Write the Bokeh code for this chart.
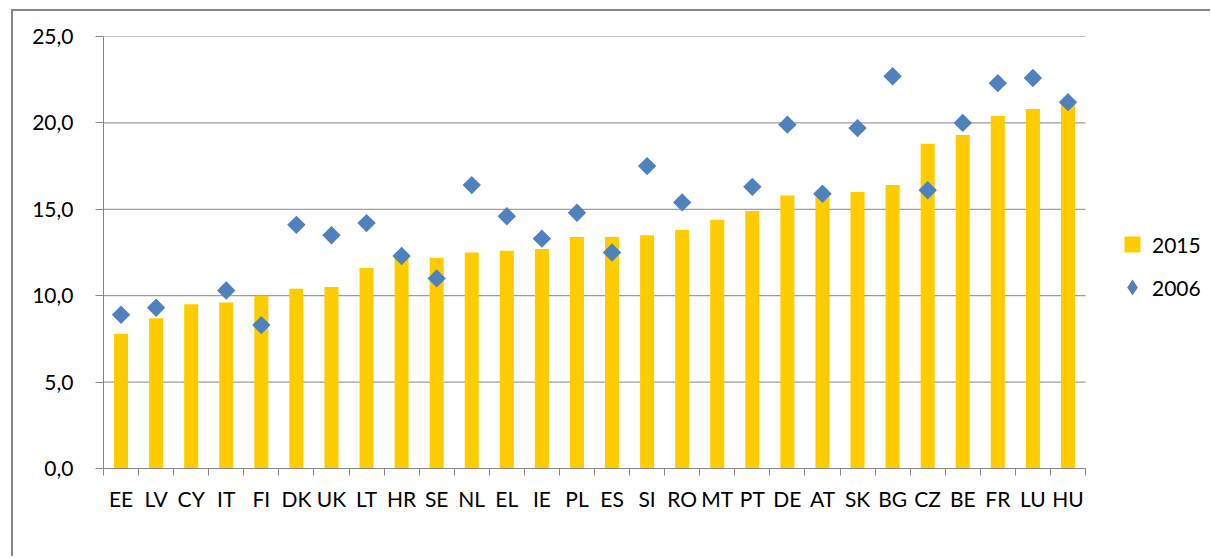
from bokeh.plotting import figure
from bokeh.models import Range1d, FixedTicker, Legend, LegendItem
from bokeh.embed import file_html
from bokeh.resources import INLINE
import math

countries = ["EE", "LV", "CY", "IT", "FI", "DK", "UK", "LT", "HR", "SE", "NL", "EL", "IE", "PL",
             "ES", "SI", "RO", "MT", "PT", "DE", "AT", "SK", "BG", "CZ", "BE", "FR", "LU", "HU"]
v2015 = [7.8, 8.7, 9.5, 9.6, 10.0, 10.4, 10.5, 11.6, 12.3, 12.2, 12.5, 12.6, 12.7, 13.4,
         13.4, 13.5, 13.8, 14.4, 14.9, 15.8, 15.9, 16.0, 16.4, 18.8, 19.3, 20.4, 20.8, 21.1]
v2006 = [8.9, 9.3, None, 10.3, 8.3, 14.1, 13.5, 14.2, 12.3, 11.0, 16.4, 14.6, 13.3, 14.8,
         12.5, 17.5, 15.4, None, 16.3, 19.9, 15.9, 19.7, 22.7, 16.1, 20.0, 22.3, 22.6, 21.2]
y_ticks = [0, 5, 10, 15, 20, 25]
y_labels = ["0,0", "5,0", "10,0", "15,0", "20,0", "25,0"]

FONT = "Lato"
GRID = "#868686"
YELLOW = "#FFCC00"
BLUE = "#4F81BD"

n = len(countries)
xc = [i + 0.5 for i in range(n)]
x06 = [xc[i] for i in range(n) if v2006[i] is not None]
y06 = [v for v in v2006 if v is not None]

OFF_X, OFF_Y = 13, 11
FRAME_L, FRAME_R_DATA, PAGE_W = 103, 1085, 1212
x_end = n * (PAGE_W - FRAME_L) / (FRAME_R_DATA - FRAME_L)

p = figure(width=PAGE_W - OFF_X, height=558 - OFF_Y, output_backend="svg", toolbar_location=None,
           x_range=Range1d(0, x_end), y_range=Range1d(0, 25),
           min_border_left=FRAME_L - OFF_X, min_border_right=0,
           min_border_top=36 - OFF_Y, min_border_bottom=558 - 468)
p.outline_line_color = None
p.background_fill_color = "white"
p.border_fill_color = "white"
p.margin = (9, 0, 0, 11)
p.styles = {"border-left": "2px solid #868686", "border-top": "2px solid #868686"}

# horizontal gridlines limited to the category area
p.xgrid.grid_line_color = None
p.ygrid.grid_line_color = None
p.segment(x0=[0] * len(y_ticks), x1=[n] * len(y_ticks), y0=y_ticks, y1=y_ticks,
          line_color=GRID, line_width=1)

bars = p.vbar(x=xc, top=v2015, width=0.4, color=YELLOW, line_color=None)
pts = p.scatter(x=x06, y=y06, marker="square", angle=math.pi / 4, size=13,
                fill_color=BLUE, line_color=None)

# legend proxies (zero-size, only used for legend glyphs)
prox_sq = p.scatter(x=xc, y=v2015, marker="square", size=0, fill_color=YELLOW, line_color=None)
prox_di = p.scatter(x=x06, y=y06, marker="diamond", size=0, fill_color=BLUE, line_color=None)

# axes
xa = p.xaxis[0]
xa.bounds = (0, n)
xa.ticker = FixedTicker(ticks=xc, minor_ticks=list(range(n + 1)))
xa.major_label_overrides = {x: c for x, c in zip(xc, countries)}
xa.major_tick_line_color = None
xa.minor_tick_line_color = GRID
xa.minor_tick_out = 7
xa.minor_tick_in = 0
xa.axis_line_color = GRID
xa.major_label_standoff = 10
xa.major_label_text_font = FONT
xa.major_label_text_font_size = "21px"
xa.major_label_text_color = "black"

ya = p.yaxis[0]
ya.ticker = FixedTicker(ticks=y_ticks)
ya.major_label_overrides = {t: l for t, l in zip(y_ticks, y_labels)}
ya.major_tick_line_color = GRID
ya.major_tick_out = 8
ya.major_tick_in = 0
ya.minor_tick_line_color = None
ya.axis_line_color = GRID
ya.major_label_standoff = 22
ya.major_label_text_font = FONT
ya.major_label_text_font_size = "21px"
ya.major_label_text_color = "black"

legend = Legend(items=[LegendItem(label="2015", renderers=[prox_sq]),
                       LegendItem(label="2006", renderers=[prox_di])],
                location=(1009, 161), glyph_width=40, glyph_height=40,
                spacing=3, padding=0, margin=0, label_standoff=0,
                label_text_font=FONT, label_text_font_size="21px",
                label_text_color="black", border_line_color=None,
                background_fill_alpha=0)
p.add_layout(legend, "center")

open("out.html", "w").write(file_html(p, INLINE))
